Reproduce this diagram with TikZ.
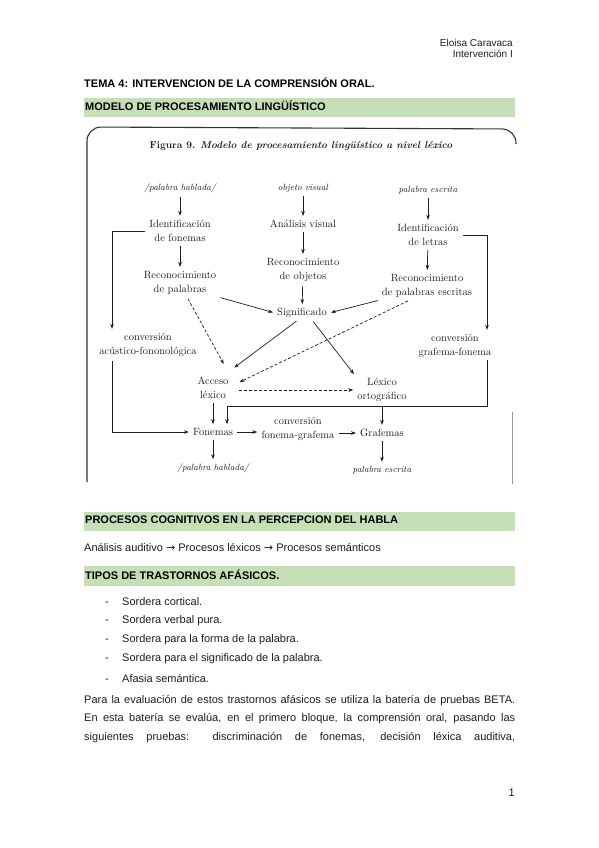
\documentclass[tikz,border=0pt]{standalone}
\usepackage{fontspec}
\newfontfamily\arial{Liberation Sans}
\newfontfamily\flechas{DejaVu Sans}
\usetikzlibrary{calc,arrows.meta}
\definecolor{barverde}{RGB}{197,224,180}
\definecolor{tinta}{RGB}{30,30,30}
\newcommand{\flechita}{{\flechas\fontsize{11}{13}\selectfont →}}
\tikzset{
	caja/.style={font=\fontsize{10.5}{14.5}\selectfont, align=center, inner sep=2pt, text=tinta},
	entrada/.style={font=\fontsize{9}{11}\selectfont\itshape, inner sep=2pt, text=tinta},
	flecha/.style={-{Stealth[length=5pt,width=3.6pt]}, line width=0.7pt, draw=tinta, shorten >=2pt, shorten <=2pt},
	puntos/.style={flecha, densely dashed},
	cuerpo/.style={font=\arial\fontsize{11}{13}\selectfont, anchor=west, inner sep=0pt, text=tinta},
	titulo/.style={font=\arial\bfseries\fontsize{11}{13}\selectfont, anchor=west, inner sep=0pt, text=black},
}
\begin{document}
\begin{tikzpicture}[x=1pt, y=-1pt]
				\useasboundingbox (0,0) rectangle (599,848);
				\fill[white] (0,0) rectangle (599,848);
				
				\node[cuerpo, anchor=east, font=\arial\fontsize{10}{12}\selectfont] (autor) at (513,43) {Eloisa Caravaca};
				\node[cuerpo, anchor=east, font=\arial\fontsize{10}{12}\selectfont] (asignatura) at (513,54) {Intervención I};
				\node[titulo] (tema) at (84,83) {TEMA 4: INTERVENCION DE LA COMPRENSIÓN ORAL.};
				
				\fill[barverde] (84,98) rectangle (515,117);
				\node[titulo] (modelo) at (85,106) {MODELO DE PROCESAMIENTO LINGÜÍSTICO};
				
				\draw[line width=1.1pt, black!80, rounded corners=14pt] (87,482) -- (87,127) -- (516,129) -- (516,144);
				\draw[black!40, line width=0.8pt] (512,412) -- (512,484);
				\node[font=\fontsize{10}{12}\selectfont, text=tinta] (figura) at (301,146) {\bfseries Figura 9. \textit{Modelo de procesamiento lingüístico a nivel léxico}};
				
				\node[entrada] (hablada) at (180,188) {/palabra hablada/};
				\node[caja] (idfon) at (180,231) {Identificación\\de fonemas};
				\node[caja] (recpal) at (180,283) {Reconocimiento\\de palabras};
				\node[entrada] (objeto) at (303,188) {objeto visual};
				\node[caja] (analisis) at (303,224) {Análisis visual};
				\node[caja] (recobj) at (303,270) {Reconocimiento\\de objetos};
				\node[caja] (signif) at (302,313) {Significado};
				\node[entrada] (escrita) at (428,190) {palabra escrita};
				\node[caja] (idlet) at (428,235) {Identificación\\de letras};
				\node[caja] (recesc) at (427,286) {Reconocimiento\\de palabras escritas};
				\node[caja] (acufon) at (148,345) {conversión\\acústico-fononológica};
				\node[caja] (grafon) at (455,346) {conversión\\grafema-fonema};
				\node[caja] (acceso) at (213,388) {Acceso\\léxico};
				\node[caja] (lexorto) at (382,390) {Léxico\\ortográfico};
				\node[caja] (fonemas) at (213,432) {Fonemas};
				\node[caja] (fongra) at (298,429) {conversión\\fonema-grafema};
				\node[caja] (grafemas) at (382,433) {Grafemas};
				\node[entrada] (hablada2) at (213,468) {/palabra hablada/};
				\node[entrada] (escrita2) at (382,470) {palabra escrita};
				
				\coordinate (bizq) at (112,0);
				\coordinate (bder) at (487,0);
				\coordinate (cruce) at (227,406);
				
				\draw[flecha] (hablada) -- (idfon);
				\draw[flecha] (idfon) -- (recpal);
				\draw[flecha] (objeto) -- (analisis);
				\draw[flecha] (analisis) -- (recobj);
				\draw[flecha] (recobj) -- (signif);
				\draw[flecha] (escrita) -- (idlet);
				\draw[flecha] (idlet) -- (recesc);
				\draw[flecha] (recpal.south east) -- (signif.west);
				\draw[flecha] (recesc.south west) -- (signif.east);
				\draw[flecha] ($(signif.south)+(-4,0)$) -- ($(acceso.north east)+(2,-6)$);
				\draw[flecha] ($(signif.south)+(10,0)$) -- (lexorto.north west);
				\draw[puntos] ($(recpal.south)+(7,0)$) -- ($(acceso.north east)+(-6,-9)$);
				\draw[puntos] ($(recesc.south west)+(30,0)$) -- ($(acceso.east)+(7,-5)$);
				\draw[puntos] ($(acceso.east)+(6,2)$) -- (lexorto.west);
				\draw[flecha] (idfon.west) -| (bizq |- acufon.north);
				\draw[flecha] (bizq |- acufon.south) |- (fonemas.west);
				\draw[flecha] (idlet.east) -| (bder |- grafon.north);
				\draw[flecha, shorten <=0pt] (bder |- grafon.south) |- (cruce) -- (cruce |- fonemas.north);
				\draw[flecha] (acceso) -- (fonemas);
				\draw[flecha] (lexorto) -- (grafemas);
				\draw[flecha] (fonemas.east) -- (fonemas.east -| fongra.west);
				\draw[flecha] (fongra.east |- grafemas.west) -- (grafemas.west);
				\draw[flecha] (fonemas) -- (hablada2);
				\draw[flecha] (grafemas) -- (escrita2);
				
				\fill[barverde] (84,512) rectangle (515,531);
				\node[titulo] (procesos) at (85,520) {PROCESOS COGNITIVOS EN LA PERCEPCION DEL HABLA};
				\node[cuerpo] (cadena) at (84,547) {Análisis auditivo \flechita{} Procesos léxicos \flechita{} Procesos semánticos};
				
				\fill[barverde] (84,566) rectangle (515,586);
				\node[titulo] (tipos) at (85,575) {TIPOS DE TRASTORNOS AFÁSICOS.};
				
				\foreach \y/\t [count=\i] in {602/Sordera cortical., 621/Sordera verbal pura., 640/Sordera para la forma de la palabra., 659/Sordera para el significado de la palabra., 678/Afasia semántica.}
				{
					\node[cuerpo] (tipo\i) at (105,\y) {\makebox[17pt][l]{-}\t};
				}
				
				\node[cuerpo, anchor=north west, text width=431pt, align=justify, font=\arial\fontsize{11}{18.5}\selectfont] (parrafo) at (84,695) {\parfillskip=0pt Para la evaluación de estos trastornos afásicos se utiliza la batería de pruebas BETA.\linebreak En esta batería se evalúa, en el primero bloque, la comprensión oral, pasando las\linebreak siguientes pruebas: discriminación de fonemas, decisión léxica auditiva,\par};
				
				\node[cuerpo, anchor=east] (pagina) at (515,793) {1};
			\end{tikzpicture}
\end{document}
